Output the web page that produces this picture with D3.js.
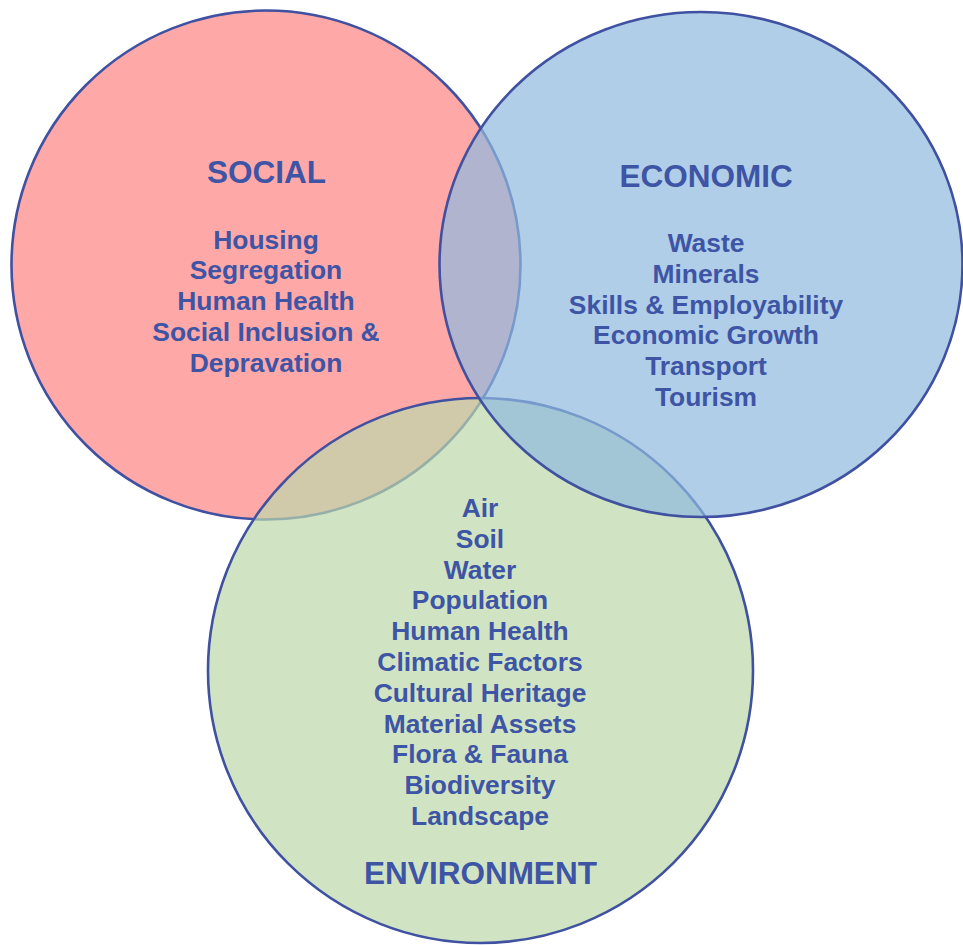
<!DOCTYPE html>
<html>
<head>
<meta charset="utf-8">
<script src="https://cdn.jsdelivr.net/npm/d3@7"></script>
<style>
  body { margin: 0; background: #fff; }
  svg { display: block; }
  .title { font-family: "Liberation Sans", Arial, sans-serif; font-weight: bold; font-size: 31.5px; fill: #3e54a5; }
  .item { font-family: "Liberation Sans", Arial, sans-serif; font-weight: bold; font-size: 26.4px; fill: #3e54a5; }
</style>
</head>
<body>
<div id="venn"></div>
<script>
// Chart content
var setNames = ["SOCIAL", "ENVIRONMENT", "ECONOMIC"];

var socialItems = ["Housing", "Segregation", "Human Health", "Social Inclusion &", "Depravation"];
var economicItems = ["Waste", "Minerals", "Skills & Employability", "Economic Growth", "Transport", "Tourism"];
var environmentItems = ["Air", "Soil", "Water", "Population", "Human Health", "Climatic Factors",
  "Cultural Heritage", "Material Assets", "Flora & Fauna", "Biodiversity", "Landscape"];

// Size of drawing area
var svgWidth = 963;
var svgHeight = 945;

var svg = d3.select("#venn")
  .append("svg")
  .attr("width", svgWidth)
  .attr("height", svgHeight);

// Layout of each set (drawing order: social, environment, economic)
var layout = {
  "SOCIAL":      { cx: 266, cy: 265, rx: 254.5, ry: 254.5, fill: "#ffa8a8", opacity: 1,
                   items: socialItems, titleY: 183, itemsY: 248.5, titleX: 266.5, itemsX: 266 },
  "ENVIRONMENT": { cx: 480.5, cy: 670.5, rx: 272.5, ry: 272.5, fill: "#bcd8ab", opacity: 0.7,
                   items: environmentItems, titleY: 884, itemsY: 517, titleX: 480.5, itemsX: 480 },
  "ECONOMIC":    { cx: 701, cy: 264.5, rx: 261.5, ry: 252.5, fill: "#8eb9de", opacity: 0.7,
                   items: economicItems, titleY: 186.5, itemsY: 252, titleX: 706, itemsX: 706 }
};

var lineStep = 30.8;

var sets = setNames.map(function(name) {
  return Object.assign({ name: name }, layout[name]);
});

// Circles
svg.append("g").selectAll("ellipse")
  .data(sets)
  .enter()
  .append("ellipse")
  .attr("cx", d => d.cx)
  .attr("cy", d => d.cy)
  .attr("rx", d => d.rx)
  .attr("ry", d => d.ry)
  .attr("fill", d => d.fill)
  .attr("fill-opacity", d => d.opacity)
  .attr("stroke", "#3f51a0")
  .attr("stroke-width", 2.6);

// Titles
svg.append("g").selectAll("text")
  .data(sets)
  .enter()
  .append("text")
  .attr("class", "title")
  .attr("x", d => d.titleX)
  .attr("y", d => d.titleY)
  .attr("text-anchor", "middle")
  .text(d => d.name);

// Item lists
sets.forEach(function(s) {
  var y = d3.scaleLinear().domain([0, 1]).range([s.itemsY, s.itemsY + lineStep]);
  svg.append("g").selectAll("text")
    .data(s.items)
    .enter()
    .append("text")
    .attr("class", "item")
    .attr("x", s.itemsX)
    .attr("y", (d, i) => y(i))
    .attr("text-anchor", "middle")
    .text(d => d);
});
</script>
</body>
</html>
